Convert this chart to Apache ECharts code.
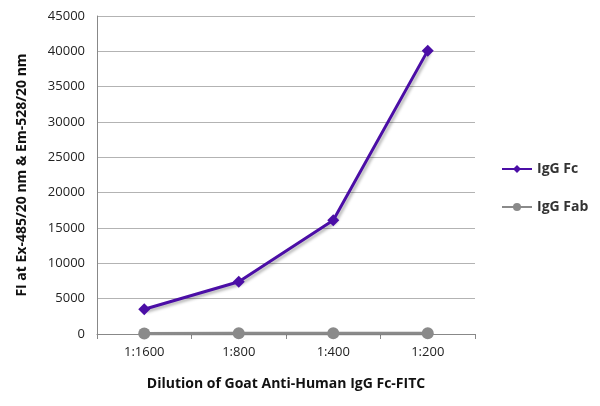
<!DOCTYPE html>
<html>
<head>
<meta charset="utf-8">
<script src="https://cdn.jsdelivr.net/npm/echarts@6/dist/echarts.min.js"></script>
<style>html,body{margin:0;padding:0;background:#fff}#c{width:600px;height:406px}</style>
</head>
<body>
<div id="c"></div>
<script>
const categories = ['1:1600', '1:800', '1:400', '1:200'];
const iggFc = [3500, 7400, 16100, 40100];
const iggFab = [80, 90, 100, 110];
const yTicks = { min: 0, max: 45000, interval: 5000 };

const chart = echarts.init(document.getElementById('c'));
const font = 'Open Sans';
chart.setOption({
  animation: false,
  grid: { left: 97, right: 125, top: 16, bottom: 72 },
  legend: {
    orient: 'vertical',
    left: 496,
    top: 157,
    itemGap: 24,
    itemWidth: 30,
    itemHeight: 10,
    textStyle: { fontFamily: font, fontWeight: 'bold', fontSize: 14, color: '#333' },
    data: ['IgG Fc', 'IgG Fab']
  },
  xAxis: {
    type: 'category',
    data: categories,
    name: 'Dilution of Goat Anti-Human IgG Fc-FITC',
    nameLocation: 'middle',
    nameGap: 43,
    nameTextStyle: { fontFamily: font, fontWeight: 'bold', fontSize: 14, color: '#111' },
    axisLine: { lineStyle: { color: '#888', width: 1 } },
    axisTick: { show: true, length: 5, lineStyle: { color: '#888' } },
    axisLabel: { fontFamily: font, fontSize: 13, color: '#222', margin: 12 }
  },
  yAxis: {
    type: 'value',
    min: yTicks.min, max: yTicks.max, interval: yTicks.interval,
    name: 'FI at Ex-485/20 nm & Em-528/20 nm',
    nameLocation: 'middle',
    nameGap: 68,
    nameTextStyle: { fontFamily: font, fontWeight: 'bold', fontSize: 14, color: '#111' },
    axisLine: { show: true, lineStyle: { color: '#888' } },
    axisTick: { show: false },
    splitLine: { lineStyle: { color: '#b3b3b3', width: 1 } },
    axisLabel: { fontFamily: font, fontSize: 13, color: '#222', margin: 12, formatter: function (v) { return String(v); } }
  },
  series: [
    {
      name: 'IgG Fc', type: 'line', data: iggFc,
      symbol: 'diamond', symbolSize: 12, z: 3,
      itemStyle: { color: '#4b0ea6' },
      lineStyle: { color: '#4b0ea6', width: 3, shadowColor: 'rgba(0,0,0,0.3)', shadowBlur: 3, shadowOffsetX: 2, shadowOffsetY: 2 }
    },
    {
      name: 'IgG Fab', type: 'line', data: iggFab,
      symbol: 'circle', symbolSize: 12, z: 2,
      itemStyle: { color: '#8a8a8a' },
      lineStyle: { color: '#8a8a8a', width: 3, shadowColor: 'rgba(0,0,0,0.3)', shadowBlur: 3, shadowOffsetX: 2, shadowOffsetY: 2 }
    }
  ]
});
</script>
</body>
</html>
